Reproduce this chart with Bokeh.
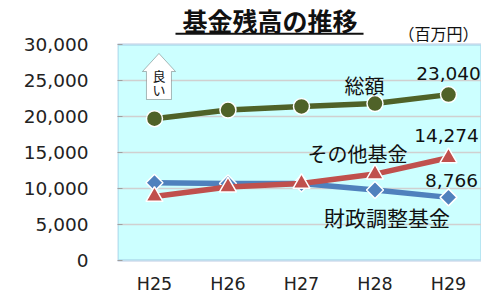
from bokeh.plotting import figure
from bokeh.models import (Range1d, FixedTicker, NumeralTickFormatter, Label,
                          PolyAnnotation, Arrow, BoxAnnotation)
from bokeh.embed import file_html
from bokeh.resources import INLINE
import math

# ---- data ----
years = ["H25", "H26", "H27", "H28", "H29"]
zaisei = [10800, 10700, 10700, 9800, 8766]       # 財政調整基金
sonota = [8900, 10200, 10700, 12000, 14274]      # その他基金
sougaku = [19700, 20900, 21400, 21800, 23040]    # 総額
y_ticks = [0, 5000, 10000, 15000, 20000, 25000, 30000]
y_max = 30000

JP = "Noto Sans CJK JP"
NUM = "DejaVu Sans"
OLIVE = "#4f6228"
RED = "#c0504d"
BLUE = "#4f81bd"

xs = list(range(len(years)))

# frame spans the title area and the category-label strip; the cyan plot
# area is a box from 0 to y_max
p = figure(width=481, height=294, output_backend="svg", toolbar_location=None,
           x_range=Range1d(-0.503, 4.449), y_range=Range1d(-4722, 36111),
           min_border_left=117, min_border_right=0, min_border_top=0,
           min_border_bottom=0, background_fill_color="white",
           border_fill_color="white")
p.outline_line_color = None

p.add_layout(BoxAnnotation(bottom=0, top=y_max, fill_color="#ccffff",
                           fill_alpha=1, line_color="#6d8fc4", line_width=2.5,
                           level="image"))

p.xgrid.visible = False
p.ygrid.grid_line_color = "#d0d0d0"
p.ygrid.grid_line_width = 1.5
p.ygrid.ticker = FixedTicker(ticks=y_ticks[1:-1])

p.yaxis.ticker = FixedTicker(ticks=y_ticks)
p.yaxis.formatter = NumeralTickFormatter(format="0,0")
p.yaxis.axis_line_color = None
p.yaxis.major_tick_in = 5
p.yaxis.major_tick_out = 0
p.yaxis.major_tick_line_color = "#a0a0a0"
p.yaxis.minor_tick_line_color = None
p.yaxis.major_label_standoff = 29
p.yaxis.major_label_text_font = NUM
p.yaxis.major_label_text_font_size = "18.5px"
p.yaxis.major_label_text_color = "#222222"

# category axis labels drawn in the strip under the plot area
p.xaxis.visible = False
p.text(x=xs, y=[-3250] * len(xs), text=years, text_align="center",
       text_baseline="middle", text_font={"value": NUM},
       text_font_size="17.5px", text_color="#222222")

# ---- series ----
p.line(xs, zaisei, line_color=BLUE, line_width=5.5)
p.scatter(xs, zaisei, marker="square", angle=math.pi / 4, size=12,
          fill_color=BLUE, line_color="white", line_width=1.5)
p.line(xs, sonota, line_color=RED, line_width=5.5)
p.scatter(xs, sonota, marker="triangle", size=17,
          fill_color=RED, line_color="white", line_width=1.5)
p.line(xs, sougaku, line_color=OLIVE, line_width=5.5)
p.scatter(xs, sougaku, marker="circle", size=16,
          fill_color=OLIVE, line_color="white", line_width=1.5)

# ---- value labels at last point ----
last = len(years) - 1
for vals, dx, dy in [(sougaku, 0, -21), (sonota, -2, -22), (zaisei, 3, -17)]:
    p.add_layout(Label(x=last, y=vals[last], text=f"{vals[last]:,}",
                       x_offset=dx, y_offset=-dy, text_align="center",
                       text_baseline="middle", text_font=NUM,
                       text_font_size="18.5px", text_color="#111111"))

# ---- series name labels ----
for txt, lx, ly, fs in [("総額", 2.857, 24306, "20px"),
                        ("その他基金", 2.762, 14861, "20px"),
                        ("財政調整基金", 3.163, 6111, "21px")]:
    p.add_layout(Label(x=lx, y=ly, text=txt, text_align="center",
                       text_baseline="middle", text_font=JP,
                       text_font_size=fs, text_color="#111111"))

# ---- title ----
p.add_layout(Label(x=1.571, y=33400, text="基金残高の推移", text_align="center",
                   text_baseline="middle", text_font=JP,
                   text_font_size="25px", text_font_style="bold",
                   text_color="#111111"))
p.add_layout(Arrow(x_start=0.286, y_start=31500, x_end=2.844, y_end=31500,
                   end=None, line_width=2, line_color="#111111"))
p.add_layout(Label(x=3.864, y=31600, text="（百万円）", text_align="center",
                   text_baseline="middle", text_font=JP,
                   text_font_size="16px", text_color="#111111"))

# ---- "良い" arrow ----
ax = [-0.109, -0.109, -0.163, 0.061, 0.286, 0.231, 0.231]
ay = [22360, 26250, 26250, 28750, 26250, 26250, 22360]
p.add_layout(PolyAnnotation(xs=ax, ys=ay, fill_color="white", fill_alpha=1,
                            line_color="#111111", line_width=1))
p.add_layout(Label(x=0.061, y=25700, text="良", text_align="center",
                   text_baseline="middle", text_font=JP,
                   text_font_size="13px", text_color="#111111"))
p.add_layout(Label(x=0.061, y=23700, text="い", text_align="center",
                   text_baseline="middle", text_font=JP,
                   text_font_size="13px", text_color="#111111"))

open("out.html", "w").write(file_html(p, INLINE))
